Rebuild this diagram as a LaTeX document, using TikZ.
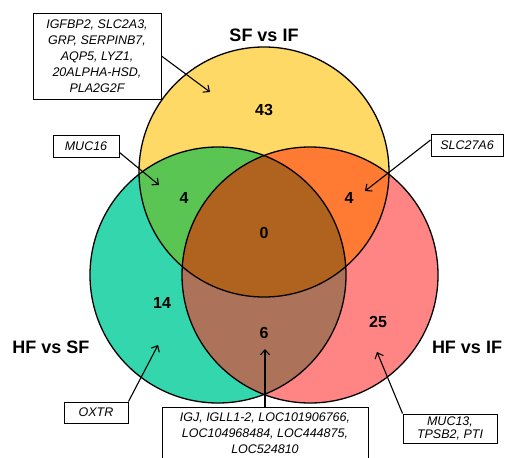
\documentclass[tikz,border=0pt]{standalone}
\usepackage{fontspec}
\setmainfont{Liberation Sans}
\usetikzlibrary{arrows.meta,calc}
\definecolor{cyel}{HTML}{FFD966}
\definecolor{cteal}{HTML}{33D6AD}
\definecolor{cpink}{HTML}{FF8585}
\definecolor{cgreen}{HTML}{5BC553}
\definecolor{corange}{HTML}{FF7A33}
\definecolor{clens}{HTML}{AD735A}
\definecolor{cbrown}{HTML}{B0621F}
\tikzset{
  ring/.style={draw=black, line width=1.3pt},
  title/.style={font=\fontsize{18}{20}\selectfont\bfseries, inner sep=0pt},
  count/.style={font=\fontsize{16}{18}\selectfont\bfseries, inner sep=0pt},
  genebox/.style={draw=black, line width=0.9pt, fill=white, align=center, inner sep=0pt,
    font=\fontsize{12.5}{16}\selectfont\itshape},
  arr/.style={line width=1.1pt, -{Straight Barb[length=5pt,width=9pt,line width=1.1pt]}}
}
\begin{document}
\begin{tikzpicture}[x=1pt,y=-1pt]
\useasboundingbox (0,0) rectangle (505,457);
% regions
\fill[cyel] (264,172) circle[radius=125pt];
\fill[cteal] (218,275) circle[radius=128pt];
\fill[cpink] (310,275) circle[radius=128pt];
\begin{scope}
  \clip (264,172) circle[radius=125pt];
  \fill[cgreen] (218,275) circle[radius=128pt];
  \fill[corange] (310,275) circle[radius=128pt];
\end{scope}
\begin{scope}
  \clip (218,275) circle[radius=128pt];
  \fill[clens] (310,275) circle[radius=128pt];
\end{scope}
\begin{scope}
  \clip (264,172) circle[radius=125pt];
  \clip (218,275) circle[radius=128pt];
  \fill[cbrown] (310,275) circle[radius=128pt];
\end{scope}
% outlines
\draw[ring] (264,172) circle[radius=125pt];
\draw[ring] (218,275) circle[radius=128pt];
\draw[ring] (310,275) circle[radius=128pt];
% titles
\node[title] (tsf) at (264,35) {SF vs IF};
\node[title] (thf) at (51,347) {HF vs SF};
\node[title] (thi) at (467,347) {HF vs IF};
% counts
\node[count] (n43) at (264,110) {43};
\node[count] (n4l) at (184,198) {4};
\node[count] (n4r) at (349,198) {4};
\node[count] (n0) at (264,233) {0};
\node[count] (n14) at (162,303) {14};
\node[count] (n6) at (264,333) {6};
\node[count] (n25) at (378,322) {25};
% gene boxes
\node[genebox, minimum width=128pt, minimum height=86pt] (b1) at (97,56)
  {IGFBP2, SLC2A3,\\GRP, SERPINB7,\\AQP5, LYZ1,\\20ALPHA-HSD,\\PLA2G2F};
\node[genebox, minimum width=66pt, minimum height=22pt] (b2) at (86,146) {MUC16};
\node[genebox, minimum width=72pt, minimum height=22pt] (b3) at (467,145) {SLC27A6};
\node[genebox, minimum width=64pt, minimum height=21pt] (b4) at (96,412.5) {OXTR};
\node[genebox, minimum width=206pt, minimum height=52pt] (b5) at (265,433)
  {IGJ, IGLL1-2, LOC101906766,\\LOC104968484, LOC444875,\\LOC524810};
\node[genebox, minimum width=94pt, minimum height=29pt,
  font=\fontsize{12.5}{13}\selectfont\itshape] (b6) at (450,428.5) {MUC13,\\TPSB2, PTI};
% arrow tips
\coordinate (p1) at (210,92);
\coordinate (p2) at (159,185);
\coordinate (p3) at (365,191);
\coordinate (p4) at (158,345);
\coordinate (p5) at (265,349);
\coordinate (p6) at (377,352);
% connectors
\draw[arr] (b1.east) -- (p1);
\draw[arr] ($(b2.south east)+(0,-5)$) -- (p2);
\draw[arr] ($(b3.west)+(0,-5)$) -- (p3);
\draw[arr] (b4.north east) -- (p4);
\draw[arr] (b5.north) -- (p5);
\draw[arr] (b6.north west) -- (p6);
\end{tikzpicture}
\end{document}
